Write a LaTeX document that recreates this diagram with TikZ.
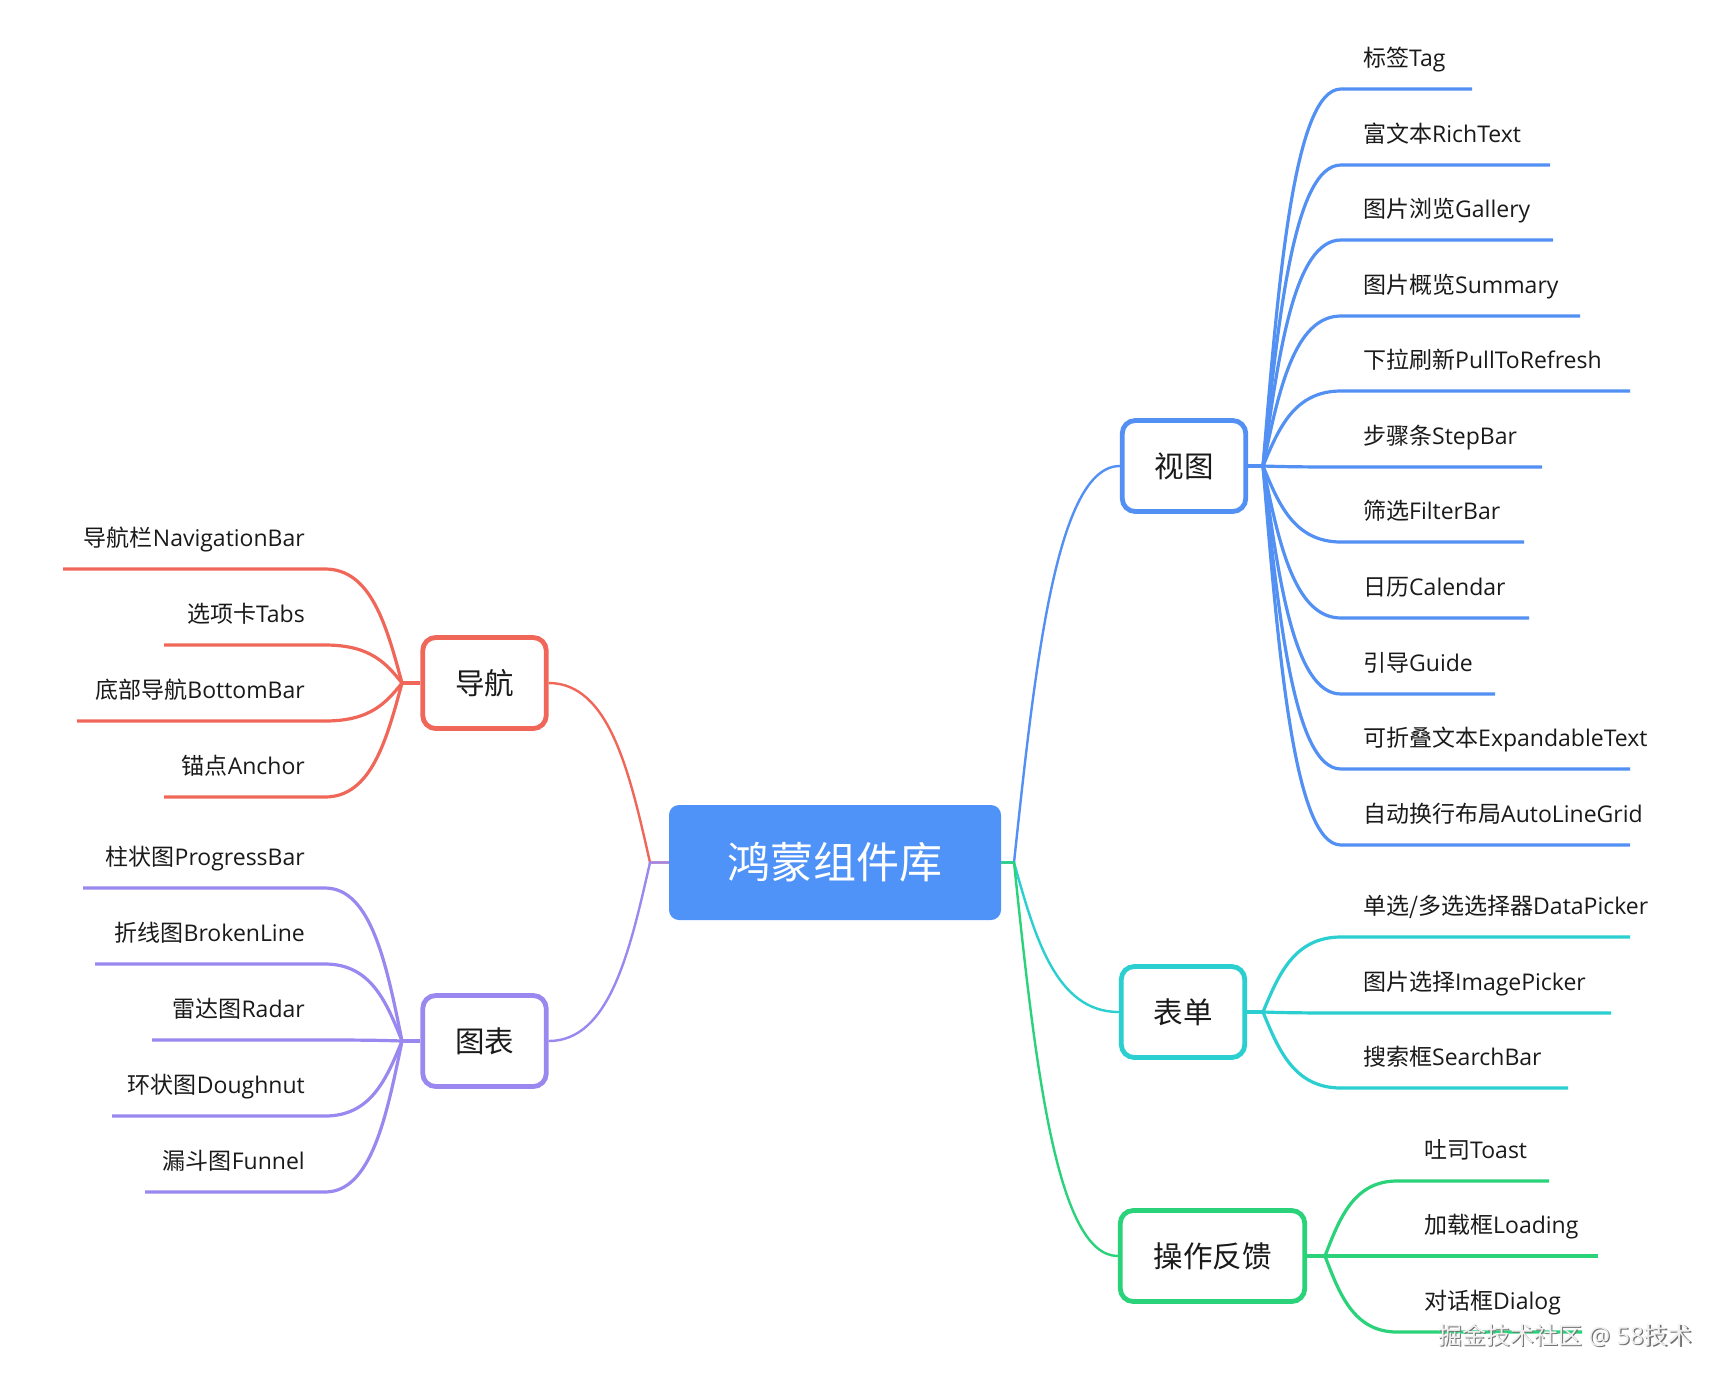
\documentclass[tikz,border=0pt]{standalone}
\usepackage{fontspec}
\setmainfont{Open Sans}
\newfontfamily\cjk{Noto Sans CJK SC}
\usetikzlibrary{calc}
\definecolor{cblue}{HTML}{5290F4}
\definecolor{cfill}{HTML}{4F92F8}
\definecolor{cred}{HTML}{F0675A}
\definecolor{cpurple}{HTML}{9A88F0}
\definecolor{ccyan}{HTML}{2BCFD0}
\definecolor{cgreen}{HTML}{2AD27A}
\definecolor{ctext}{HTML}{1A1A1A}
\tikzset{
  branchcurve/.style={to path={let \p1=(\tikztostart), \p2=(\tikztotarget) in
    .. controls ({\x1+0.2*(\x2-\x1)},{\y1+0.5*(\y2-\y1)}) and ({\x1+0.4*(\x2-\x1)},{\y2}) .. (\tikztotarget) \tikztonodes}},
  lab/.style={text=ctext, inner sep=0pt, font=\fontsize{23}{28}\selectfont},
  kidline/.style={line width=3.2pt},
  mainline/.style={line width=2.4pt},
  topic/.style={draw, line width=4.8pt, fill=white, rounded corners=13pt, minimum height=91pt,
    text=ctext, inner sep=0pt, font=\cjk\fontsize{29.5}{34}\selectfont},
  rootbox/.style={fill=cfill, rounded corners=10pt, minimum width=332pt, minimum height=115pt,
    text=white, inner sep=0pt, font=\cjk\fontsize{43}{50}\selectfont},
  wmark/.style={inner sep=0pt, font=\fontsize{24}{28}\selectfont}
}
% #1 name, #2 branch coord, #3 colour, #4 x start, #5 y, #6 x end, #7 anchor, #8 text x, #9 text
\newcommand\mmkid[9]{%
  \coordinate (#1s) at (#4,#5);
  \coordinate (#1e) at (#6,#5);
  \node[lab,anchor=#7] (#1) at (#8,#5-23) {#9};
  \draw[kidline,#3] (#2) to[branchcurve] (#1s) -- (#1e);
}
\begin{document}
\begin{tikzpicture}[x=1pt,y=-1pt]
\fill[white] (0,0) rectangle (1730,1382);
\useasboundingbox (0,0) rectangle (1730,1382);

% root and topics
\node[rootbox] (root) at (835,862.5) {鸿蒙组件库};
\coordinate (cR) at (1014,862.5);
\coordinate (cL) at (650,862.5);

\node[topic, draw=cblue, minimum width=123.5pt] (view) at (1184,466) {视图};
\node[topic, draw=ccyan, minimum width=123.5pt] (form) at (1183,1012) {表单};
\node[topic, draw=cgreen, minimum width=184.5pt] (fb) at (1212.5,1256) {操作反馈};
\node[topic, draw=cred, minimum width=123.5pt] (nav) at (484.5,683) {导航};
\node[topic, draw=cpurple, minimum width=123.5pt] (chart) at (484.5,1041) {图表};

% main connectors
\draw[mainline,cblue] (root.east) -- (cR) to[branchcurve] (view.west);
\draw[mainline,ccyan] (root.east) -- (cR) to[branchcurve] (form.west);
\draw[mainline,cgreen] (root.east) -- (cR) to[branchcurve] (fb.west);
\draw[mainline,cred] (root.west) -- (cL) to[branchcurve] (nav.east);
\draw[mainline,cpurple] (root.west) -- (cL) to[branchcurve] (chart.east);

% branch points
\coordinate (vbr) at (1263,466);
\coordinate (fbr) at (1263,1012);
\coordinate (obr) at (1325,1256);
\coordinate (nbr) at (402,683);
\coordinate (gbr) at (402,1041);
\draw[kidline,cblue] (view.east) -- (vbr);
\draw[kidline,ccyan] (form.east) -- (fbr);
\draw[kidline,cgreen] (fb.east) -- (obr);
\draw[kidline,cred] (nav.west) -- (nbr);
\draw[kidline,cpurple] (chart.west) -- (gbr);

% 视图 children
\mmkid{v1}{vbr}{cblue}{1341}{89}{1472}{base west}{1363}{{\cjk 标签}Tag}
\mmkid{v2}{vbr}{cblue}{1341}{165}{1550}{base west}{1363}{{\cjk 富文本}RichText}
\mmkid{v3}{vbr}{cblue}{1341}{240}{1553}{base west}{1363}{{\cjk 图片浏览}Gallery}
\mmkid{v4}{vbr}{cblue}{1341}{316}{1580}{base west}{1363}{{\cjk 图片概览}Summary}
\mmkid{v5}{vbr}{cblue}{1341}{391}{1630}{base west}{1363}{{\cjk 下拉刷新}PullToRefresh}
\mmkid{v6}{vbr}{cblue}{1341}{467}{1542}{base west}{1363}{{\cjk 步骤条}StepBar}
\mmkid{v7}{vbr}{cblue}{1341}{542}{1524}{base west}{1363}{{\cjk 筛选}FilterBar}
\mmkid{v8}{vbr}{cblue}{1341}{618}{1529}{base west}{1363}{{\cjk 日历}Calendar}
\mmkid{v9}{vbr}{cblue}{1341}{694}{1495}{base west}{1363}{{\cjk 引导}Guide}
\mmkid{v10}{vbr}{cblue}{1341}{769}{1630}{base west}{1363}{{\cjk 可折叠文本}ExpandableText}
\mmkid{v11}{vbr}{cblue}{1341}{845}{1630}{base west}{1363}{{\cjk 自动换行布局}AutoLineGrid}

% 表单 children
\mmkid{f1}{fbr}{ccyan}{1341}{937}{1630}{base west}{1363}{{\cjk 单选/多选选择器}DataPicker}
\mmkid{f2}{fbr}{ccyan}{1341}{1013}{1611}{base west}{1363}{{\cjk 图片选择}ImagePicker}
\mmkid{f3}{fbr}{ccyan}{1341}{1088}{1568}{base west}{1363}{{\cjk 搜索框}SearchBar}

% 操作反馈 children
\mmkid{o1}{obr}{cgreen}{1397}{1181}{1549}{base west}{1424}{{\cjk 吐司}Toast}
\mmkid{o2}{obr}{cgreen}{1397}{1256}{1598}{base west}{1424}{{\cjk 加载框}Loading}
\mmkid{o3}{obr}{cgreen}{1397}{1332}{1582}{base west}{1424}{{\cjk 对话框}Dialog}

% 导航 children
\mmkid{n1}{nbr}{cred}{325}{569}{63}{base east}{305}{{\cjk 导航栏}NavigationBar}
\mmkid{n2}{nbr}{cred}{325}{645}{164}{base east}{305}{{\cjk 选项卡}Tabs}
\mmkid{n3}{nbr}{cred}{325}{721}{77}{base east}{305}{{\cjk 底部导航}BottomBar}
\mmkid{n4}{nbr}{cred}{325}{797}{164}{base east}{305}{{\cjk 锚点}Anchor}

% 图表 children
\mmkid{g1}{gbr}{cpurple}{325}{888}{83}{base east}{305}{{\cjk 柱状图}ProgressBar}
\mmkid{g2}{gbr}{cpurple}{325}{964}{95}{base east}{305}{{\cjk 折线图}BrokenLine}
\mmkid{g3}{gbr}{cpurple}{325}{1040}{152}{base east}{305}{{\cjk 雷达图}Radar}
\mmkid{g4}{gbr}{cpurple}{325}{1116}{112}{base east}{305}{{\cjk 环状图}Doughnut}
\mmkid{g5}{gbr}{cpurple}{325}{1192}{145}{base east}{305}{{\cjk 漏斗图}Funnel}

% watermark
\node[wmark, text=black!55] (wms) at (1566.3,1336.3) {{\cjk 掘金技术社区} @ 58{\cjk 技术}};
\node[wmark, text=black!6] (wm) at (1565,1335) {{\cjk 掘金技术社区} @ 58{\cjk 技术}};
\end{tikzpicture}
\end{document}
